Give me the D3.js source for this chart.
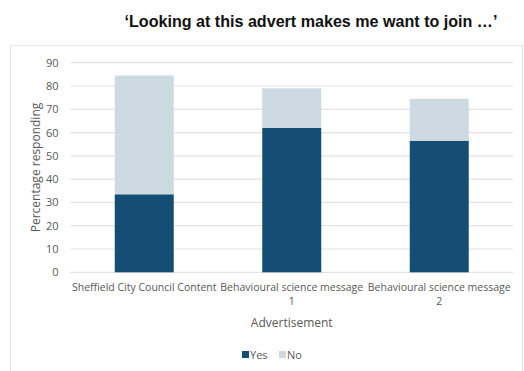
<!DOCTYPE html>
<html lang="en">
<head>
<meta charset="utf-8">
<title></title>
<script src="https://cdn.jsdelivr.net/npm/d3@7"></script>
<style>
  body { margin: 0; background: #fff; }
  .chart text { font-family: "Open Sans", sans-serif; fill: #595959; }
  .axis .domain { display: none; }
</style>
</head>
<body>
<svg class="chart"></svg>
<script>
var categories = ["Sheffield City Council Content", "Behavioural science message 1", "Behavioural science message 2"];
var categoryLines = [["Sheffield City Council Content"], ["Behavioural science message", "1"], ["Behavioural science message", "2"]];
var yesValues = [33.5, 62, 56.5];
var noValues = [51, 17, 18];
var seriesNames = ["Yes", "No"];
var yTicks = [0, 10, 20, 30, 40, 50, 60, 70, 80, 90];

var W = 524, H = 371;
var margin = {top: 62.7, right: 11, bottom: 98.7, left: 70.5},
    width = W - margin.left - margin.right,
    height = H - margin.top - margin.bottom;

var colors = {Yes: "#154e74", No: "#cddae2"};

var svg = d3.select(".chart").attr("width", W).attr("height", H);

// outer chart frame
svg.append("rect")
  .attr("x", 10.5).attr("y", 45.5)
  .attr("width", 512).attr("height", 340)
  .attr("fill", "none").attr("stroke", "#e4e4e4");

svg.append("text")
  .attr("x", 311).attr("y", 27)
  .attr("text-anchor", "middle")
  .style("font-family", "'Liberation Sans', Arial, sans-serif")
  .style("font-weight", "bold")
  .style("font-size", "16.1px")
  .style("fill", "#111")
  .text("\u2018Looking at this advert makes me want to join \u2026\u2019");

var chart = svg.append("g")
  .attr("transform", "translate(" + margin.left + "," + margin.top + ")");

var x = d3.scaleBand().domain(categories).range([0, width]).paddingInner(0.6).paddingOuter(0.3);
var y = d3.scaleLinear().domain([0, 90]).range([height, 0]);

// gridlines
chart.append("g").selectAll("line")
  .data(yTicks).enter().append("line")
  .attr("x1", 0).attr("x2", width)
  .attr("y1", function(d) { return y(d); })
  .attr("y2", function(d) { return y(d); })
  .attr("stroke", "#e2e2e2").attr("stroke-width", 1.2);

var yAxis = chart.append("g")
  .attr("class", "axis")
  .call(d3.axisLeft(y).tickValues(yTicks).tickSize(0).tickPadding(12));
yAxis.selectAll("text").style("font-size", "11px");

var stackData = categories.map(function(c, i) { return {cat: c, Yes: yesValues[i], No: noValues[i]}; });
var stack = d3.stack().keys(seriesNames)(stackData);

chart.selectAll(".series")
  .data(stack).enter().append("g")
  .attr("fill", function(s) { return colors[s.key]; })
  .selectAll("rect")
  .data(function(s) { return s; }).enter().append("rect")
  .attr("x", function(d) { return x(d.data.cat); })
  .attr("width", x.bandwidth())
  .attr("y", function(d) { return y(d[1]); })
  .attr("height", function(d) { return y(d[0]) - y(d[1]); });

// category labels
var labels = chart.append("g").selectAll("text")
  .data(categories).enter().append("text")
  .attr("text-anchor", "middle")
  .attr("transform", function(d) { return "translate(" + (x(d) + x.bandwidth() / 2) + "," + (height + 19) + ")"; })
  .style("font-size", "10.5px");
labels.each(function(d, i) {
  var t = d3.select(this);
  categoryLines[i].forEach(function(line, j) {
    t.append("tspan").attr("x", 0).attr("y", j * 14).text(line);
  });
});

chart.append("text")
  .attr("x", width / 2).attr("y", height + 55)
  .attr("text-anchor", "middle")
  .style("font-size", "12px")
  .text("Advertisement");

svg.append("text")
  .attr("transform", "translate(40," + (margin.top + height / 2) + ") rotate(-90)")
  .attr("text-anchor", "middle")
  .style("font-size", "12px")
  .text("Percentage responding");

// legend
var legend = svg.append("g").attr("transform", "translate(242,351)");
var lx = [0, 37];
seriesNames.forEach(function(name, i) {
  legend.append("rect").attr("x", lx[i]).attr("y", 0).attr("width", 7).attr("height", 7).attr("fill", colors[name]);
  legend.append("text").attr("x", lx[i] + 8).attr("y", 8).style("font-size", "11px").text(name);
});
</script>
</body>
</html>
